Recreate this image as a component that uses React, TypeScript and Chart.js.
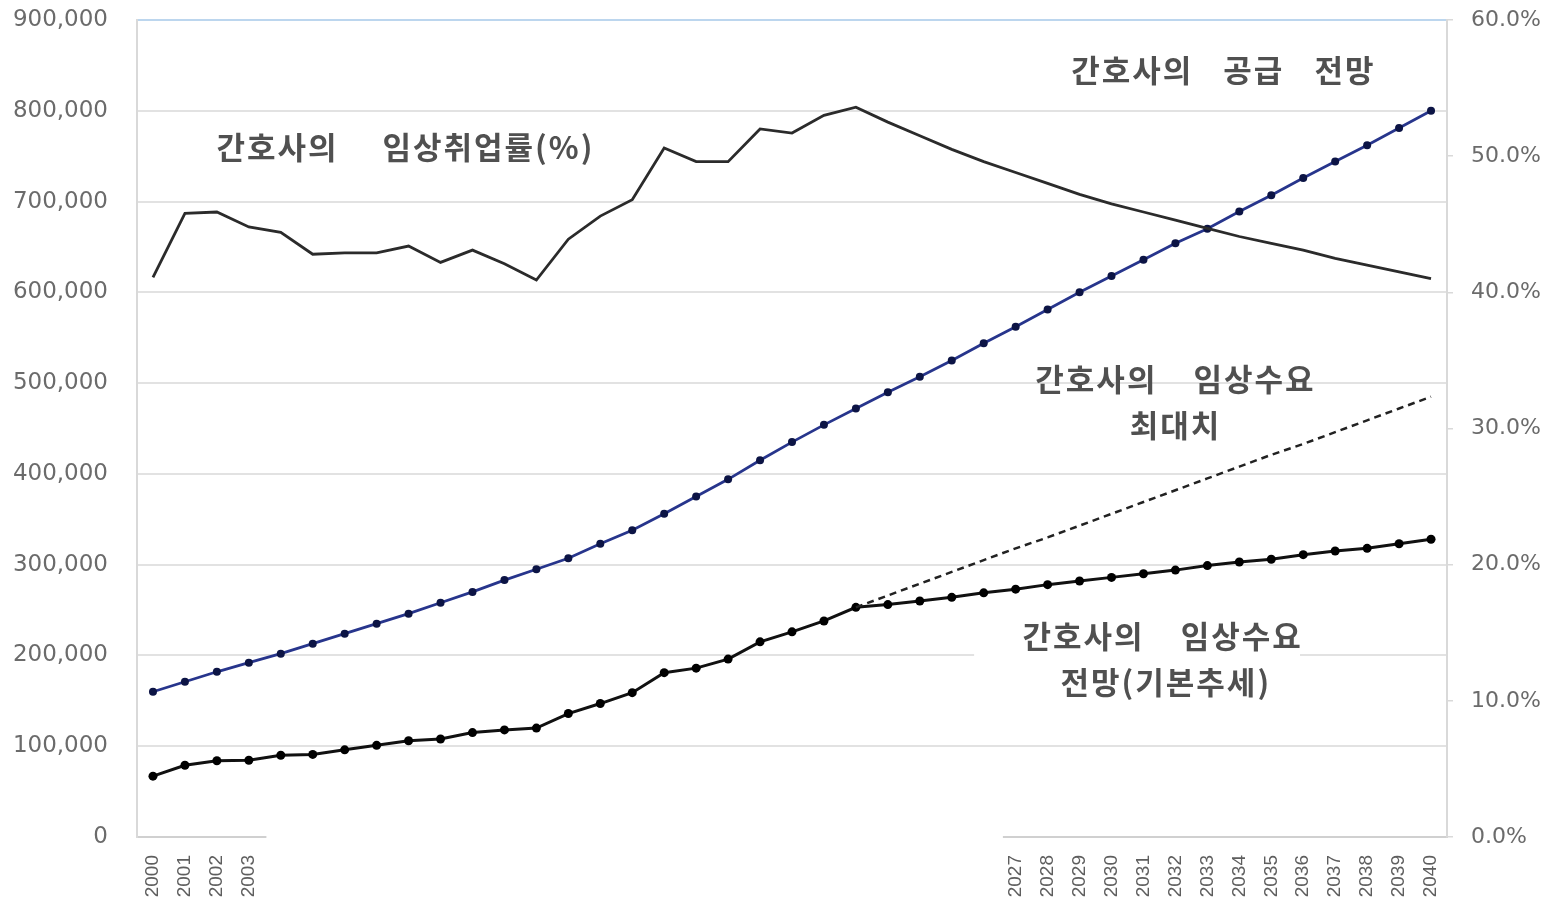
import React, { useEffect, useRef } from 'react';
import { Chart, registerables } from 'chart.js';

Chart.register(...registerables);

// ---------- DATA ----------
const years = [
  '2000', '2001', '2002', '2003', '2004', '2005', '2006', '2007', '2008', '2009',
  '2010', '2011', '2012', '2013', '2014', '2015', '2016', '2017', '2018', '2019',
  '2020', '2021', '2022', '2023', '2024', '2025', '2026', '2027', '2028', '2029',
  '2030', '2031', '2032', '2033', '2034', '2035', '2036', '2037', '2038', '2039', '2040',
];

// x labels that are visible in the reference (others are blanked out)
const visibleYearLabels = [
  '2000', '2001', '2002', '2003',
  '2027', '2028', '2029', '2030', '2031', '2032', '2033', '2034', '2035', '2036', '2037', '2038', '2039', '2040',
];

// 간호사의 공급 전망 (supply projection, persons)
const supplyValues = [
  160000, 171000, 182000, 192000, 202000, 213000, 224000, 235000, 246000, 258000,
  270000, 283000, 295000, 307000, 323000, 338000, 356000, 375000, 394000, 415000,
  435000, 454000, 472000, 490000, 507000, 525000, 544000, 562000, 581000, 600000,
  618000, 636000, 654000, 670000, 689000, 707000, 726000, 744000, 762000, 781000, 800000,
];

// 간호사의 임상수요 전망(기본추세) (clinical demand, base trend)
const demandBaseValues = [
  67000, 79000, 84000, 84500, 90000, 91000, 96000, 101000, 106000, 108000,
  115000, 118000, 120000, 136000, 147000, 159000, 181000, 186000, 196000, 215000,
  226000, 238000, 253000, 256000, 260000, 264000, 269000, 273000, 278000, 282000,
  286000, 290000, 294000, 299000, 303000, 306000, 311000, 315000, 318000, 323000, 328000,
];

// 간호사의 임상수요 최대치 (clinical demand, maximum)
const demandMaxValues = [
  null, null, null, null, null, null, null, null, null, null,
  null, null, null, null, null, null, null, null, null, null,
  null, null, 253000, 266000, 279000, 292000, 305000, 318000, 330000, 343000,
  356000, 369000, 382000, 395000, 408000, 421000, 433000, 446000, 459000, 472000, 485000,
];

// 간호사의 임상취업률(%) (clinical employment rate, right axis)
const employmentRate = [
  41.1, 45.8, 45.9, 44.8, 44.4, 42.8, 42.9, 42.9, 43.4, 42.2,
  43.1, 42.1, 40.9, 43.9, 45.6, 46.8, 50.6, 49.6, 49.6, 52.0,
  51.7, 53.0, 53.6, 52.5, 51.5, 50.5, 49.6, 48.8, 48.0, 47.2,
  46.5, 45.9, 45.3, 44.7, 44.1, 43.6, 43.1, 42.5, 42.0, 41.5, 41.0,
];

// Axis ranges
const leftAxisMax = 900000;
const leftAxisStep = 100000;
const rightAxisMax = 60;
const rightAxisStep = 10;

// Annotation texts
const noteTexts = [
  '간호사의 임상취업률(%)',
  '간호사의 공급 전망',
  '간호사의 임상수요',
  '최대치',
  '간호사의 임상수요',
  '전망(기본추세)',
];

// ---------- PLACEMENT / STYLE (not data) ----------
// x = fractional category index, y = value on left axis
const notePlacement = [
  { x: 7.9, y: 760000, gap: 44 },
  { x: 33.5, y: 845000, gap: 30 },
  { x: 32.0, y: 504000, gap: 36 },
  { x: 32.0, y: 454000, gap: 0 },
  { x: 31.6, y: 221500, gap: 36 },
  { x: 31.7, y: 170000, gap: 0 },
];
const noteBackgrounds = [
  { x0: 25.7, x1: 35.9, y0: 145000, y1: 248000 },
];
// white cover over the x-axis strip (fractional category indices)
const axisCover = { x0: 3.55, x1: 26.6 };

const notesPlugin = {
  id: 'notesPlugin',
  beforeDatasetsDraw(chart: any) {
    const { ctx, scales } = chart;
    const xs = scales.x;
    const ys = scales.y;
    ctx.save();
    ctx.fillStyle = '#ffffff';
    noteBackgrounds.forEach((b) => {
      const px0 = xs.getPixelForValue(b.x0);
      const px1 = xs.getPixelForValue(b.x1);
      const py0 = ys.getPixelForValue(b.y0);
      const py1 = ys.getPixelForValue(b.y1);
      ctx.fillRect(px0, py1, px1 - px0, py0 - py1);
    });
    ctx.restore();
  },
  afterDatasetsDraw(chart: any) {
    const { ctx, scales } = chart;
    const xs = scales.x;
    const ys = scales.y;
    ctx.save();
    ctx.font = 'bold 31px "Noto Sans CJK KR", sans-serif';
    (ctx as any).letterSpacing = '2px';
    ctx.fillStyle = '#505050';
    ctx.textBaseline = 'middle';
    ctx.textAlign = 'left';
    noteTexts.forEach((text, i) => {
      const p = notePlacement[i];
      const cx = xs.getPixelForValue(p.x);
      const cy = ys.getPixelForValue(p.y);
      const words = text.split(' ');
      const widths = words.map((w) => ctx.measureText(w).width);
      const total = widths.reduce((a, b) => a + b, 0) + p.gap * (words.length - 1);
      let xx = cx - total / 2;
      words.forEach((w, k) => {
        ctx.fillText(w, xx, cy);
        xx += widths[k] + p.gap;
      });
    });
    ctx.restore();
  },
  afterDraw(chart: any) {
    const { ctx, scales, chartArea, height } = chart;
    const xs = scales.x;
    const px0 = xs.getPixelForValue(axisCover.x0);
    const px1 = xs.getPixelForValue(axisCover.x1);
    ctx.save();
    ctx.fillStyle = '#ffffff';
    ctx.fillRect(px0, chartArea.bottom - 1, px1 - px0, height - chartArea.bottom + 1);
    ctx.restore();
  },
};

export default function App() {
  const canvasRef = useRef<HTMLCanvasElement | null>(null);

  useEffect(() => {
    const canvas = canvasRef.current;
    if (!canvas) return;
    const chart = new Chart(canvas, {
      type: 'line',
      data: {
        labels: years,
        datasets: [
          {
            label: '간호사의 임상취업률(%)',
            data: employmentRate,
            yAxisID: 'y1',
            borderColor: '#2b2b2b',
            borderWidth: 2.8,
            pointRadius: 0,
            tension: 0,
            fill: false,
          },
          {
            label: '간호사의 임상수요 최대치',
            data: demandMaxValues,
            yAxisID: 'y',
            borderColor: '#222222',
            borderWidth: 2.5,
            borderDash: [7, 5],
            pointRadius: 0,
            tension: 0,
            fill: false,
          },
          {
            label: '간호사의 공급 전망',
            data: supplyValues,
            yAxisID: 'y',
            borderColor: '#27358c',
            borderWidth: 2.8,
            pointRadius: 4,
            pointStyle: 'circle',
            pointBackgroundColor: '#0c1445',
            pointBorderColor: '#0c1445',
            pointBorderWidth: 0,
            tension: 0,
            fill: false,
          },
          {
            label: '간호사의 임상수요 전망(기본추세)',
            data: demandBaseValues,
            yAxisID: 'y',
            borderColor: '#111111',
            borderWidth: 3,
            pointRadius: 4.5,
            pointStyle: 'circle',
            pointBackgroundColor: '#000000',
            pointBorderColor: '#000000',
            pointBorderWidth: 0,
            tension: 0,
            fill: false,
          },
        ],
      },
      options: {
        responsive: false,
        animation: false,
        layout: { padding: { top: 20, left: 0, right: 0, bottom: 0 } },
        plugins: {
          legend: { display: false },
          title: { display: false },
          tooltip: { enabled: false },
        },
        scales: {
          x: {
            type: 'category',
            offset: true,
            grid: { display: false },
            border: { display: true, color: '#d0d0d0', width: 2 },
            ticks: {
              autoSkip: false,
              minRotation: 90,
              maxRotation: 90,
              padding: 10,
              color: '#5e5e5e',
              font: { family: 'Liberation Sans', size: 19 },
              callback: (_v: any, idx: number) =>
                visibleYearLabels.includes(years[idx]) ? years[idx] : '',
            },
            afterFit: (scale: any) => {
              scale.height = 61;
              scale.paddingLeft = 0;
              scale.paddingRight = 0;
            },
          },
          y: {
            type: 'linear',
            position: 'left',
            min: 0,
            max: leftAxisMax,
            ticks: {
              stepSize: leftAxisStep,
              padding: 29,
              color: '#6b6b6b',
              font: { family: 'DejaVu Sans', size: 23 },
              callback: (v: any) => Number(v).toLocaleString('en-US'),
            },
            grid: {
              drawTicks: false,
              color: (c: any) => (c.tick && c.tick.value === leftAxisMax ? '#bcd6ee' : '#e2e2e2'),
              lineWidth: 2,
            },
            border: { display: true, color: '#d9d9d9', width: 2 },
            afterFit: (scale: any) => {
              scale.width = 137;
              scale.paddingTop = 0;
              scale.paddingBottom = 0;
            },
          },
          y1: {
            type: 'linear',
            position: 'right',
            min: 0,
            max: rightAxisMax,
            ticks: {
              stepSize: rightAxisStep,
              padding: 18,
              color: '#6b6b6b',
              font: { family: 'DejaVu Sans', size: 22 },
              callback: (v: any) => Number(v).toFixed(1) + '%',
            },
            grid: {
              drawOnChartArea: false,
              drawTicks: true,
              tickLength: 6,
              color: '#d9d9d9',
              lineWidth: 1.5,
            },
            border: { display: true, color: '#d9d9d9', width: 2 },
            afterFit: (scale: any) => {
              scale.width = 113;
              scale.paddingTop = 0;
              scale.paddingBottom = 0;
            },
          },
        },
      },
      plugins: [notesPlugin],
    } as any);
    return () => {
      chart.destroy();
    };
  }, []);

  return (
    <div style={{ position: 'fixed', left: 0, top: 0, width: 1560, height: 898, background: '#ffffff' }}>
      <canvas ref={canvasRef} width={1560} height={898} style={{ width: 1560, height: 898, display: 'block' }} />
    </div>
  );
}
